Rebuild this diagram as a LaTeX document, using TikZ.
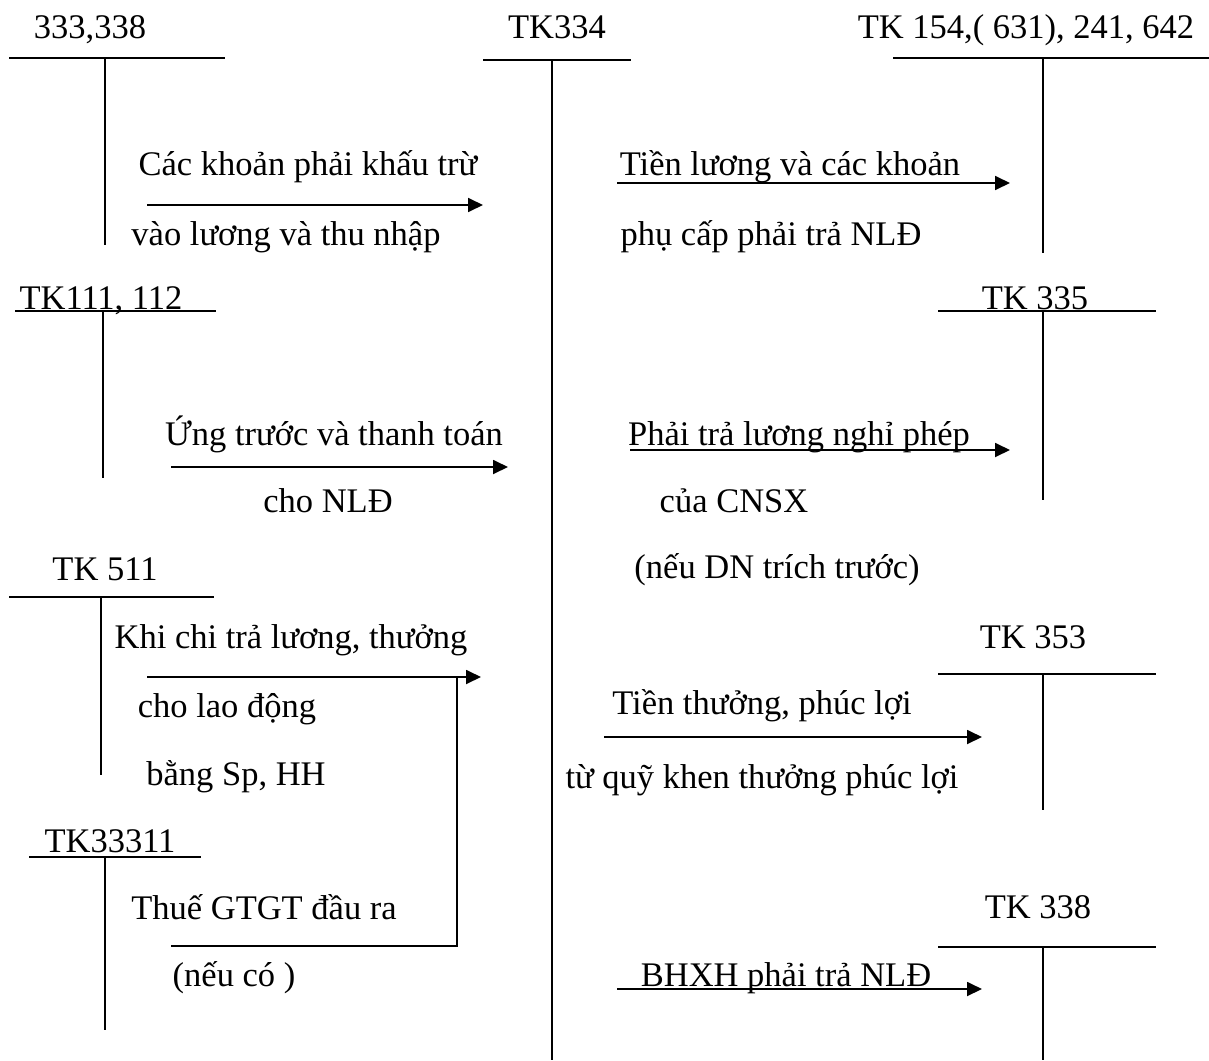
\documentclass[tikz,border=0pt]{standalone}
\usepackage{fontspec}
\setmainfont{Liberation Serif}
\usetikzlibrary{arrows.meta}
\begin{document}
\begin{tikzpicture}[x=1pt,y=-1pt,
  tline/.style={line width=1.8pt},
  flow/.style={line width=1.8pt,-{Triangle[length=15pt,width=14pt]}},
  lbl/.style={anchor=base,inner sep=0pt,font=\fontsize{34.5}{40}\selectfont}]
\useasboundingbox (0,0) rectangle (1209,1060);

% --- account labels ---
\node[lbl] (a333) at (90,38) {333,338};
\node[lbl] (a334) at (557,38) {TK334};
\node[lbl] (a154) at (1026,38) {TK 154,( 631), 241, 642};
\node[lbl] (a111) at (101,309) {TK111, 112};
\node[lbl] (a335) at (1035,309) {TK 335};
\node[lbl] (a511) at (105,580) {TK 511};
\node[lbl] (a33311) at (110,852) {TK33311};
\node[lbl] (a353) at (1033,648) {TK 353};
\node[lbl] (a338) at (1038,918) {TK 338};

% --- T-account frames ---
\draw[tline] (9,58) -- (225,58) (105,58) -- (105,245);
\draw[tline] (483,60) -- (631,60) (552,60) -- (552,1060);
\draw[tline] (893,58) -- (1209,58) (1043,58) -- (1043,253);
\draw[tline] (15,311) -- (216,311) (103,311) -- (103,478);
\draw[tline] (938,311) -- (1156,311) (1043,311) -- (1043,500);
\draw[tline] (9,597) -- (214,597) (101,597) -- (101,775);
\draw[tline] (29,857) -- (201,857) (105,857) -- (105,1030);
\draw[tline] (938,674) -- (1156,674) (1043,674) -- (1043,810);
\draw[tline] (938,947) -- (1156,947) (1043,947) -- (1043,1060);

% --- arrow end points ---
\coordinate (s1) at (147,205);  \coordinate (e1) at (483,205);
\coordinate (s2) at (617,183);  \coordinate (e2) at (1010,183);
\coordinate (s3) at (171,467);  \coordinate (e3) at (508,467);
\coordinate (s4) at (630,450);  \coordinate (e4) at (1010,450);
\coordinate (s5) at (147,677);  \coordinate (e5) at (481,677);
\coordinate (s6) at (171,946);  \coordinate (j6) at (457,677);
\coordinate (s7) at (604,737);  \coordinate (e7) at (982,737);
\coordinate (s8) at (617,989);  \coordinate (e8) at (982,989);

% --- flows ---
\draw[flow] (s1) -- (e1);
\draw[flow] (s2) -- (e2);
\draw[flow] (s3) -- (e3);
\draw[flow] (s4) -- (e4);
\draw[flow] (s5) -- (e5);
\draw[tline] (s6) -| (j6);
\draw[flow] (s7) -- (e7);
\draw[flow] (s8) -- (e8);

% --- flow descriptions ---
\node[lbl] (t1a) at (308,175) {Các khoản phải khấu trừ};
\node[lbl] (t1b) at (286,245) {vào lương và thu nhập};
\node[lbl] (t2a) at (790,175) {Tiền lương và các khoản};
\node[lbl] (t2b) at (771,245) {phụ cấp phải trả NLĐ};
\node[lbl] (t3a) at (334,445) {Ứng trước và thanh toán};
\node[lbl] (t3b) at (328,512) {cho NLĐ};
\node[lbl] (t4a) at (799,445) {Phải trả lương nghỉ phép};
\node[lbl] (t4b) at (734,512) {của CNSX};
\node[lbl] (t4c) at (777,578) {(nếu DN trích trước)};
\node[lbl] (t5a) at (291,648) {Khi chi trả lương, thưởng};
\node[lbl] (t5b) at (227,717) {cho lao động};
\node[lbl] (t5c) at (236,785) {bằng Sp, HH};
\node[lbl] (t6a) at (264,919) {Thuế GTGT đầu ra};
\node[lbl] (t6b) at (234,986) {(nếu có )};
\node[lbl] (t7a) at (762,714) {Tiền thưởng, phúc lợi};
\node[lbl] (t7b) at (762,788) {từ quỹ khen thưởng phúc lợi};
\node[lbl] (t8a) at (786,986) {BHXH phải trả NLĐ};
\end{tikzpicture}
\end{document}
